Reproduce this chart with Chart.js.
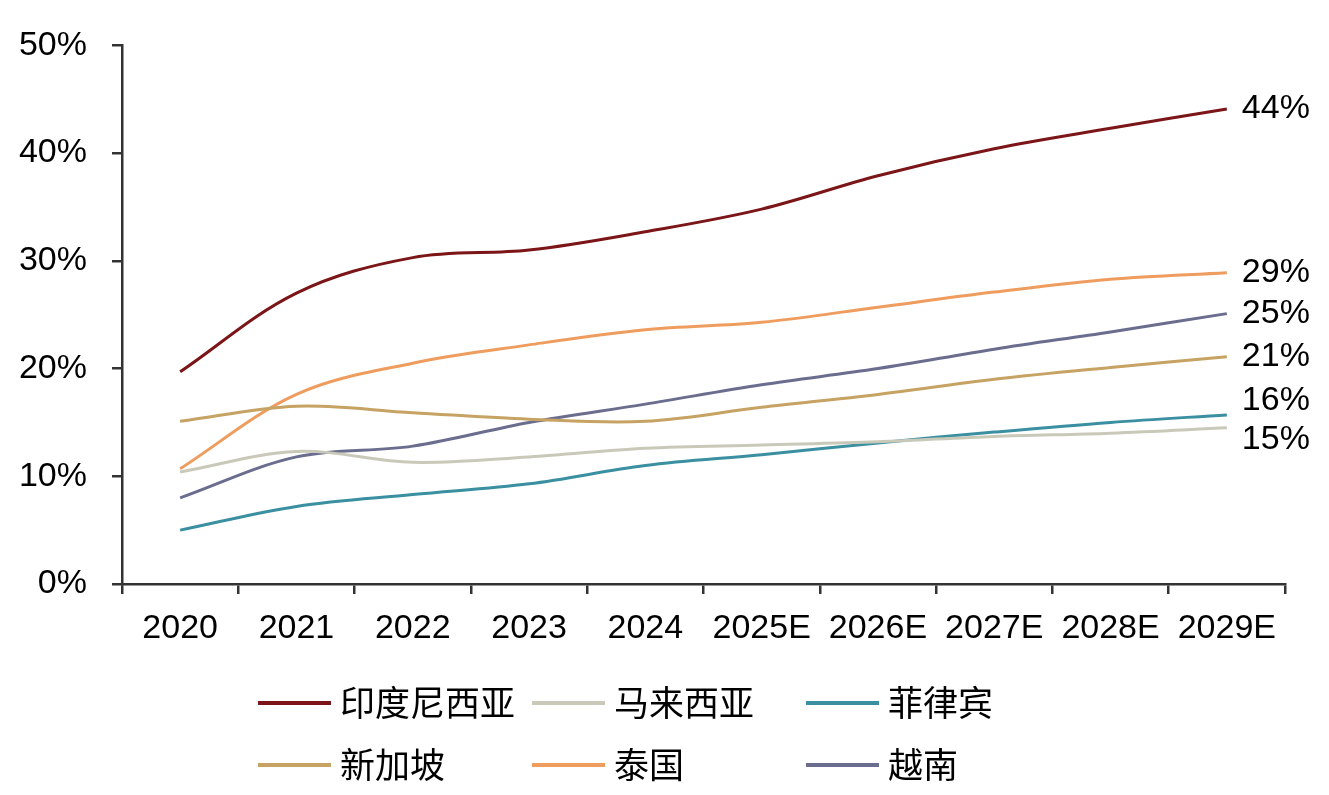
<!DOCTYPE html>
<html>
<head>
<meta charset="utf-8">
<script src="https://cdn.jsdelivr.net/npm/chart.js@4"></script>
<style>
  html, body { margin: 0; padding: 0; background: #fff; }
  #wrap { width: 1329px; height: 795px; }
</style>
</head>
<body>
<div id="wrap"><canvas id="shareChart"></canvas></div>
<script>
const years = ["2020", "2021", "2022", "2023", "2024", "2025E", "2026E", "2027E", "2028E", "2029E"];
const countries = ["印度尼西亚", "马来西亚", "菲律宾", "新加坡", "泰国", "越南"];

const indonesia = [19.7, 27.0, 30.3, 31.0, 32.7, 34.8, 37.9, 40.4, 42.3, 44.1];
const malaysia = [10.4, 12.3, 11.3, 11.8, 12.6, 12.9, 13.2, 13.7, 14.0, 14.5];
const philippines = [5.0, 7.2, 8.3, 9.3, 11.0, 12.0, 13.1, 14.1, 15.0, 15.7];
const singapore = [15.1, 16.5, 15.9, 15.3, 15.1, 16.4, 17.6, 19.0, 20.1, 21.1];
const thailand = [10.7, 17.6, 20.5, 22.2, 23.6, 24.3, 25.7, 27.1, 28.3, 28.9];
const vietnam = [8.0, 11.8, 12.8, 15.0, 16.7, 18.5, 20.0, 21.8, 23.4, 25.1];

const yTicks = [0, 10, 20, 30, 40, 50];

const colors = ["#7b1517", "#c9c9b9", "#3a8fa1", "#c6a263", "#ee9d5f", "#6b6d8f"];
const series = [indonesia, malaysia, philippines, singapore, thailand, vietnam];

const latin = '"Liberation Sans", Arial, sans-serif';
const cjk = '"Noto Sans CJK SC", "Liberation Sans", sans-serif';

// end-of-line labels, nudged apart where lines sit close together
const endLabels = {
  id: "endLabels",
  afterDatasetsDraw(chart, args, opts) {
    const ctx = chart.ctx;
    ctx.save();
    ctx.font = "34px " + latin;
    ctx.fillStyle = "#000";
    ctx.textAlign = "left";
    ctx.textBaseline = "middle";
    chart.data.datasets.forEach((ds, i) => {
      const pts = chart.getDatasetMeta(i).data;
      const p = pts[pts.length - 1];
      const v = ds.data[ds.data.length - 1];
      ctx.fillText(Math.round(v) + "%", p.x + 15, p.y + (opts.nudge[i] || 0));
    });
    ctx.restore();
  }
};

// legend in a fixed 3-column grid below the axis
const gridLegend = {
  id: "gridLegend",
  afterDraw(chart, args, opts) {
    const ctx = chart.ctx;
    ctx.save();
    ctx.font = "35px " + cjk;
    ctx.textBaseline = "middle";
    chart.data.datasets.forEach((ds, i) => {
      const col = i % 3, row = Math.floor(i / 3);
      const x = opts.cols[col], y = opts.rows[row];
      ctx.strokeStyle = ds.borderColor;
      ctx.lineWidth = 4;
      ctx.beginPath();
      ctx.moveTo(x, y);
      ctx.lineTo(x + 73, y);
      ctx.stroke();
      ctx.fillStyle = "#000";
      ctx.fillText(ds.label, x + 82, y);
    });
    ctx.restore();
  }
};

new Chart(document.getElementById("shareChart"), {
  type: "line",
  data: {
    labels: years,
    datasets: countries.map((name, i) => ({
      label: name,
      data: series[i],
      borderColor: colors[i],
      backgroundColor: colors[i],
      borderWidth: 3,
      pointRadius: 0,
      tension: 0.35,
      fill: false
    }))
  },
  options: {
    responsive: true,
    maintainAspectRatio: false,
    animation: false,
    layout: { padding: { left: 0, top: 41, right: 44, bottom: 151 } },
    plugins: {
      legend: { display: false },
      tooltip: { enabled: false },
      endLabels: { nudge: [0, 12, -14, 0, 0, 0] },
      gridLegend: { cols: [258, 532, 806], rows: [703, 765] }
    },
    scales: {
      x: {
        offset: true,
        grid: { offset: true, drawOnChartArea: false, drawTicks: true, tickLength: 10, color: "#333", lineWidth: 2.5 },
        border: { display: true, color: "#333", width: 2.5 },
        ticks: { color: "#000", font: { family: latin, size: 34 }, padding: 14, maxRotation: 0, autoSkip: false },
        afterFit(scale) { scale.height = 60; }
      },
      y: {
        min: 0,
        max: 50,
        afterBuildTicks(scale) { scale.ticks = yTicks.map(v => ({ value: v })); },
        grid: { drawOnChartArea: false, drawTicks: true, tickLength: 10, color: "#333", lineWidth: 2.5 },
        border: { display: true, color: "#333", width: 2.5 },
        ticks: { color: "#000", font: { family: latin, size: 34 }, padding: 25, callback: v => v + "%" },
        afterFit(scale) { scale.width = 122; }
      }
    }
  },
  plugins: [endLabels, gridLegend]
});
</script>
</body>
</html>
